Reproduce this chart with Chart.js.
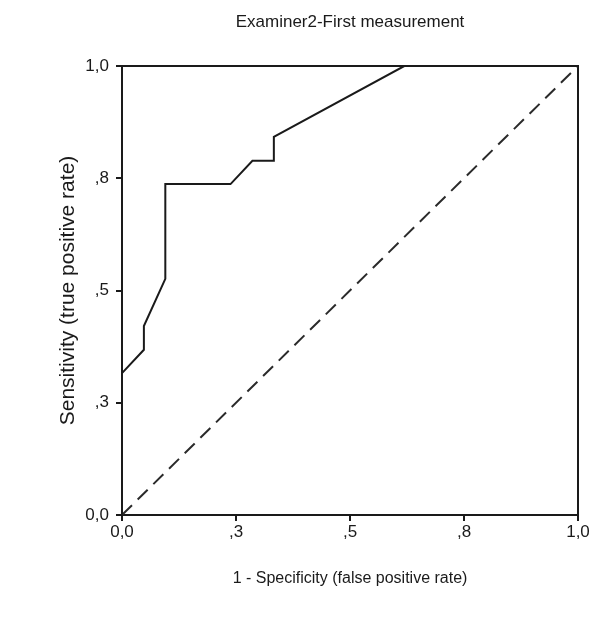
<!DOCTYPE html>
<html>
<head>
<meta charset="utf-8">
<script src="https://cdn.jsdelivr.net/npm/chart.js@4/dist/chart.umd.min.js"></script>
<style>
  html, body { margin: 0; padding: 0; background: #fff; }
  #wrap { width: 601px; height: 626px; }
</style>
</head>
<body>
<div id="wrap"><canvas id="rocChart" width="601" height="626"></canvas></div>
<script>
// ROC curve
const rocX = [0, 0, 0.048, 0.048, 0.095, 0.095, 0.238, 0.286, 0.333, 0.333, 0.619, 1.0];
const rocY = [0, 0.316, 0.368, 0.421, 0.526, 0.737, 0.737, 0.789, 0.789, 0.842, 1.0, 1.0];
// reference diagonal
const refX = [0, 1];
const refY = [0, 1];
// axis ticks and their printed labels
const tickValues = [0, 0.25, 0.5, 0.75, 1];
const tickLabels = ["0,0", ",3", ",5", ",8", "1,0"];

const chartTitle = "Examiner2-First measurement";
const xTitle = "1 - Specificity (false positive rate)";
const yTitle = "Sensitivity (true positive rate)";

const ink = "#1a1a1a";
const family = "'Liberation Sans', Arial, sans-serif";

function toPoints(xs, ys) {
    return xs.map((x, i) => ({ x: x, y: ys[i] }));
}

function fixedTicks(scale) {
    scale.ticks = tickValues.map(v => ({ value: v }));
}

function tickLabel(value) {
    const i = tickValues.indexOf(value);
    return i >= 0 ? tickLabels[i] : "";
}

const data = {
    datasets: [
        {
            label: "ROC",
            data: toPoints(rocX, rocY),
            showLine: true,
            borderColor: ink,
            borderWidth: 2,
            pointRadius: 0,
            tension: 0,
            fill: false
        },
        {
            label: "Reference",
            data: toPoints(refX, refY),
            showLine: true,
            borderColor: "#2a2a2a",
            borderWidth: 2,
            borderDash: [14, 8],
            pointRadius: 0,
            fill: false
        }
    ]
};

const config = {
    type: "scatter",
    data: data,
    options: {
        responsive: false,
        animation: false,
        layout: { padding: { left: 56, right: 23, top: 0, bottom: 38 } },
        plugins: {
            legend: { display: false },
            tooltip: { enabled: false },
            title: { display: false }
        },
        scales: {
            x: {
                type: "linear",
                min: 0,
                max: 1,
                afterBuildTicks: fixedTicks,
                afterFit: function (scale) { scale.height = 73; },
                ticks: { color: ink, font: { family: family, size: 17 }, padding: 1, maxRotation: 0, callback: tickLabel },
                grid: { drawOnChartArea: false, drawTicks: true, tickLength: 6, color: ink, lineWidth: 2 },
                border: { display: true, color: ink, width: 2 },
                title: { display: true, text: xTitle, color: ink, font: { family: family, size: 16 }, padding: 0 }
            },
            y: {
                type: "linear",
                min: 0,
                max: 1,
                afterBuildTicks: fixedTicks,
                afterFit: function (scale) { scale.width = 66; },
                ticks: { color: ink, font: { family: family, size: 17 }, padding: 7, callback: tickLabel },
                grid: { drawOnChartArea: false, drawTicks: true, tickLength: 6, color: ink, lineWidth: 2 },
                border: { display: true, color: ink, width: 2 },
                title: { display: true, text: yTitle, color: ink, font: { family: family, size: 21 }, padding: 0 }
            },
            xTop: {
                type: "linear",
                position: "top",
                min: 0,
                max: 1,
                afterFit: function (scale) { scale.height = 66; },
                ticks: { display: false },
                grid: { display: false },
                border: { display: true, color: ink, width: 2 },
                title: { display: true, text: chartTitle, color: ink, font: { family: family, size: 17 }, padding: { top: 12, bottom: 0 } }
            },
            yRight: {
                type: "linear",
                position: "right",
                min: 0,
                max: 1,
                afterFit: function (scale) { scale.width = 0; },
                ticks: { display: false },
                grid: { display: false },
                border: { display: true, color: ink, width: 2 }
            }
        }
    }
};

new Chart(document.getElementById("rocChart").getContext("2d"), config);
</script>
</body>
</html>
